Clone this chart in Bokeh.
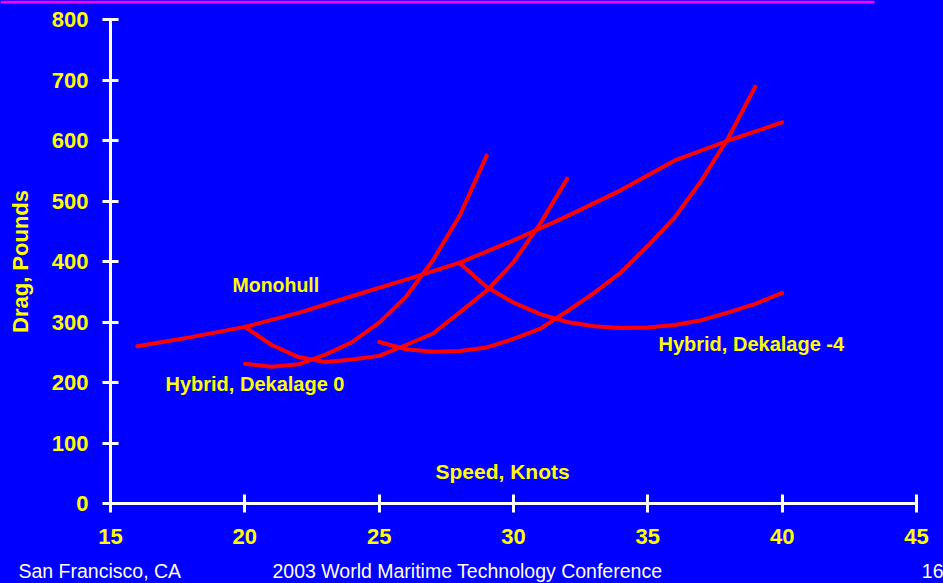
from bokeh.plotting import figure
from bokeh.models import Range1d, FixedTicker, Label
from bokeh.embed import file_html
from bokeh.resources import INLINE

# Drag vs speed data (knots, pounds)
mono_speed = [16, 18, 20, 22, 24, 26, 28, 30, 32, 34, 36, 38, 40]
mono_drag = [260, 275, 292, 315, 343, 370, 398, 435, 475, 518, 567, 600, 630]

hyb0_a_speed = [20, 21, 22, 23, 24, 25, 26, 27, 28, 29, 30, 31, 32]
hyb0_a_drag = [292, 262, 242, 234, 238, 244, 262, 281, 316, 352, 399, 463, 537]

hyb0_b_speed = [20, 21, 22, 23, 24, 25, 26, 27, 28, 29]
hyb0_b_drag = [231, 226, 230, 246, 267, 299, 342, 402, 476, 575]

hyb4_a_speed = [28, 29, 30, 31, 32, 33, 34, 35, 36, 37, 38, 39, 40]
hyb4_a_drag = [397, 358, 332, 313, 300, 293, 290, 291, 295, 303, 316, 330, 348]

hyb4_b_speed = [25, 26, 27, 28, 29, 30, 31, 32, 33, 34, 35, 36, 37, 38, 39]
hyb4_b_drag = [267, 255, 251, 252, 258, 272, 289, 318, 348, 382, 426, 473, 534, 605, 689]

x_ticks = [15, 20, 25, 30, 35, 40, 45]
y_ticks = [0, 100, 200, 300, 400, 500, 600, 700, 800]

footer_texts = ["San Francisco, CA", "2003 World Maritime Technology Conference", "16"]

BLUE = "#0000FF"
YELLOW = "#FFFF00"
RED = "#FF0000"
MAGENTA = "#FF00FF"
FONT = "Liberation Sans"

# page geometry (pixels) and the axis box inside it
W, H = 943, 583
AX_L, AX_R, AX_T, AX_B = 110, 916, 19, 503
X0, X1, Y0, Y1 = 15, 45, 0, 800
kx = (AX_R - AX_L) / (X1 - X0)
ky = (AX_B - AX_T) / (Y1 - Y0)


def px_to_x(px):
    return X0 + (px - AX_L) / kx


def px_to_y(py):
    return Y0 + (AX_B - py) / ky


p = figure(width=W, height=H, output_backend="svg", toolbar_location=None,
           x_range=Range1d(px_to_x(0), px_to_x(W)), y_range=Range1d(px_to_y(H), px_to_y(0)),
           min_border=0)

p.background_fill_color = BLUE
p.border_fill_color = BLUE
p.outline_line_color = None
p.xgrid.grid_line_color = None
p.ygrid.grid_line_color = None

# axes cross at (15, 0) and only span the data box
p.xaxis.fixed_location = Y0
p.yaxis.fixed_location = X0
p.xaxis.bounds = (X0, X1)
p.yaxis.bounds = (Y0, Y1)

for ax in (p.xaxis, p.yaxis):
    ax.axis_line_color = "white"
    ax.axis_line_width = 3
    ax.major_tick_line_color = "white"
    ax.major_tick_line_width = 3
    ax.minor_tick_line_color = None
    ax.major_label_text_color = YELLOW
    ax.major_label_text_font = FONT
    ax.major_label_text_font_style = "bold"
    ax.major_label_text_font_size = "22px"

p.xaxis.ticker = FixedTicker(ticks=x_ticks)
p.yaxis.ticker = FixedTicker(ticks=y_ticks)
p.xaxis.major_tick_in = 9
p.xaxis.major_tick_out = 9
p.yaxis.major_tick_in = 8
p.yaxis.major_tick_out = 8
p.xaxis.major_label_standoff = 16
p.yaxis.major_label_standoff = 14

p.yaxis.axis_label = "Drag, Pounds"
p.yaxis.axis_label_text_color = YELLOW
p.yaxis.axis_label_text_font = FONT
p.yaxis.axis_label_text_font_style = "bold"
p.yaxis.axis_label_text_font_size = "22px"
p.yaxis.axis_label_standoff = 16

# magenta rule across the top
p.quad(left=[px_to_x(0)], right=[px_to_x(874)], top=[px_to_y(0)], bottom=[px_to_y(3)],
       fill_color=MAGENTA, line_color=None)

curves = [(mono_speed, mono_drag), (hyb0_a_speed, hyb0_a_drag), (hyb0_b_speed, hyb0_b_drag),
          (hyb4_a_speed, hyb4_a_drag), (hyb4_b_speed, hyb4_b_drag)]
for xs, ys in curves:
    p.line(xs, ys, line_color=RED, line_width=4, line_join="round", line_cap="round")


def add_label(px, py, text, align="left", size="20px", bold=True, color=YELLOW):
    p.add_layout(Label(x=px_to_x(px), y=px_to_y(py), text=text, text_align=align,
                       text_baseline="middle", text_color=color, text_font=FONT,
                       text_font_size=size, text_font_style="bold" if bold else "normal"))


add_label(232, 284, "Monohull", size="19.5px")
add_label(165, 383, "Hybrid, Dekalage  0")
add_label(658, 343, "Hybrid, Dekalage  -4")
add_label(505, 471, "Speed,  Knots", align="center", size="21px")

# footer line
add_label(18, 570, footer_texts[0], size="19.5px", bold=False, color="white")
add_label(272, 570, footer_texts[1], size="19.5px", bold=False, color="white")
add_label(943, 570, footer_texts[2], align="right", size="19.5px", bold=False, color="white")

html = file_html(p, INLINE)
# blue page behind the canvas so no light seam shows at its edges
html = html.replace("<head>", "<head><style>html, body {margin: 0; background: #0000FF;}</style>", 1)
open("out.html", "w").write(html)
